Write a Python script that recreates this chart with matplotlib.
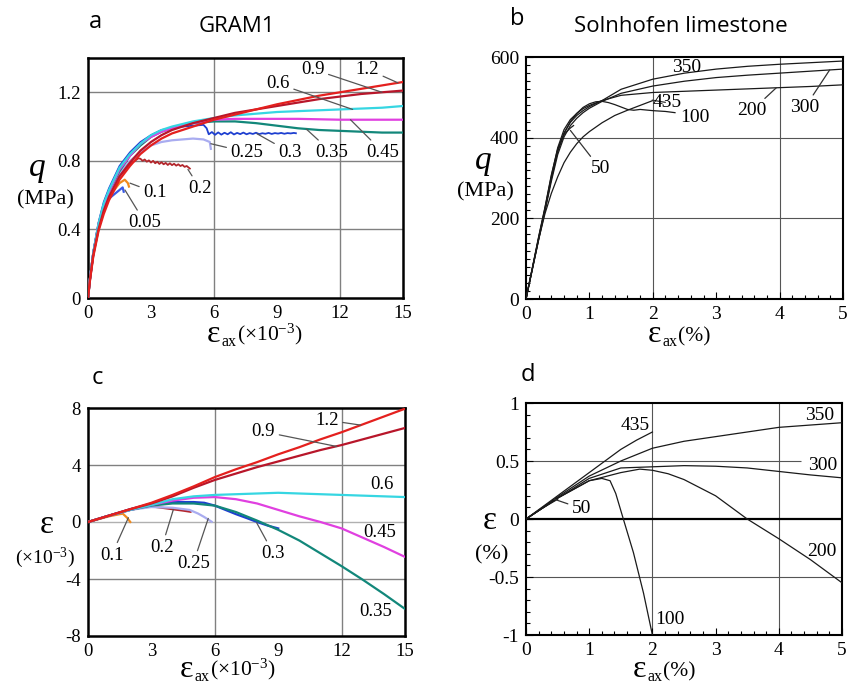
import matplotlib
matplotlib.use('Agg')
import matplotlib.pyplot as plt
from matplotlib.ticker import MultipleLocator

plt.rcParams['font.family'] = ['Liberation Serif', 'DejaVu Serif']
plt.rcParams['mathtext.fontset'] = 'custom'
plt.rcParams['mathtext.rm'] = 'Liberation Serif'
plt.rcParams['mathtext.it'] = 'Liberation Serif:italic'

W, H = 851, 687

# ---------------- panel a : GRAM1, q (MPa) vs eps_ax (x1e-3) ----------------
a_labels = ['1.2', '0.9', '0.6', '0.45', '0.35', '0.3', '0.25', '0.2', '0.1', '0.05']
a_colors = ['#e4201e', '#b8162a', '#36d6e2', '#e040e0', '#12877a',
            '#1e3fd0', '#a9acf0', '#b3262c', '#f08a1e', '#3a5ae6']
a_x = {
    '1.2': [0, 0.1, 0.25, 0.5, 0.75, 1.0, 1.5, 2.0, 2.5, 3, 3.5, 4, 5, 6, 7, 8, 9, 10, 11, 12, 13, 14, 15],
    '0.9': [0, 0.1, 0.25, 0.5, 0.75, 1.0, 1.5, 2.0, 2.5, 3, 3.5, 4, 5, 6, 7, 8, 9, 10, 11, 12, 13, 14, 15],
    '0.6': [0, 0.1, 0.25, 0.5, 0.75, 1, 1.5, 2, 2.5, 3, 3.5, 4, 5, 6, 7, 8, 9, 10, 11, 12, 13, 14, 15],
    '0.45': [0, 0.1, 0.25, 0.5, 0.75, 1, 1.5, 2, 2.5, 3, 3.5, 4, 5, 6, 7, 8, 10, 12, 15],
    '0.35': [0, 0.1, 0.25, 0.5, 0.75, 1, 1.5, 2, 2.5, 3, 3.5, 4, 5, 6, 7, 8, 9, 10, 11, 12, 13, 14, 15],
    '0.3': [0, 0.1, 0.25, 0.5, 0.75, 1, 1.5, 2, 2.5, 3, 3.5, 4, 4.5, 5, 5.5, 5.65,
            5.75, 5.9, 6.05, 6.2, 6.35, 6.5, 6.65, 6.8, 6.95, 7.1, 7.25, 7.4, 7.55, 7.7,
            7.85, 8.0, 8.15, 8.3, 8.45, 8.6, 8.75, 8.9, 9.05, 9.2, 9.35, 9.5, 9.65, 9.8, 9.9],
    '0.25': [0, 0.1, 0.25, 0.5, 0.75, 1, 1.5, 2, 2.5, 3, 3.5, 4, 4.5, 5, 5.5, 5.8, 5.85],
    '0.2': [0, 0.1, 0.25, 0.5, 0.75, 1, 1.5, 2, 2.4, 2.5, 2.6, 2.7, 2.8, 2.9, 3.0, 3.1, 3.2,
            3.3, 3.4, 3.5, 3.6, 3.7, 3.8, 3.9, 4.0, 4.1, 4.2, 4.3, 4.4, 4.5, 4.6, 4.7, 4.8, 4.85],
    '0.1': [0, 0.1, 0.25, 0.5, 0.75, 1, 1.5, 1.75, 1.9, 1.95],
    '0.05': [0, 0.1, 0.25, 0.5, 0.75, 1, 1.5, 1.65, 1.7],
}
a_q = {
    '1.2': [0, 0.11, 0.24, 0.39, 0.49, 0.57, 0.69, 0.77, 0.84, 0.89, 0.93, 0.96, 1.0, 1.04,
            1.07, 1.1, 1.13, 1.155, 1.18, 1.2, 1.22, 1.24, 1.26],
    '0.9': [0, 0.11, 0.25, 0.4, 0.51, 0.59, 0.71, 0.79, 0.86, 0.91, 0.95, 0.98, 1.02, 1.05,
            1.08, 1.1, 1.12, 1.14, 1.16, 1.175, 1.19, 1.2, 1.21],
    '0.6': [0, 0.12, 0.26, 0.43, 0.55, 0.63, 0.76, 0.84, 0.9, 0.95, 0.98, 1.0, 1.03, 1.05,
            1.065, 1.075, 1.085, 1.09, 1.095, 1.1, 1.105, 1.11, 1.12],
    '0.45': [0, 0.12, 0.26, 0.43, 0.54, 0.62, 0.75, 0.83, 0.9, 0.94, 0.97, 0.99, 1.02, 1.04,
             1.045, 1.045, 1.045, 1.04, 1.04],
    '0.35': [0, 0.12, 0.26, 0.43, 0.54, 0.62, 0.74, 0.83, 0.89, 0.94, 0.97, 0.99, 1.02, 1.03,
             1.03, 1.02, 1.005, 0.99, 0.98, 0.975, 0.97, 0.965, 0.965],
    '0.3': [0, 0.12, 0.27, 0.44, 0.56, 0.64, 0.77, 0.85, 0.91, 0.95, 0.98, 0.99, 1.0, 1.005,
            1.01, 0.99,
            0.955, 0.968, 0.952, 0.966, 0.953, 0.964, 0.955, 0.967, 0.954, 0.963, 0.956, 0.965,
            0.955, 0.962, 0.957, 0.964, 0.956, 0.961, 0.958, 0.963, 0.957, 0.962, 0.959,
            0.963, 0.958, 0.962, 0.960, 0.963, 0.961],
    '0.25': [0, 0.12, 0.25, 0.42, 0.53, 0.61, 0.73, 0.8, 0.85, 0.89, 0.91, 0.92, 0.925, 0.93,
             0.925, 0.91, 0.87],
    '0.2': [0, 0.11, 0.25, 0.4, 0.51, 0.59, 0.71, 0.78, 0.815, 0.812, 0.80, 0.808, 0.795,
            0.803, 0.79, 0.80, 0.786, 0.795, 0.782, 0.792, 0.78, 0.788, 0.776, 0.786, 0.775,
            0.783, 0.772, 0.78, 0.77, 0.776, 0.765, 0.77, 0.76, 0.755],
    '0.1': [0, 0.12, 0.26, 0.42, 0.52, 0.59, 0.67, 0.69, 0.67, 0.65],
    '0.05': [0, 0.12, 0.26, 0.42, 0.52, 0.58, 0.63, 0.645, 0.62],
}
# label text position, leader end on curve
a_notes = [('0.05', (2.71, 0.44), (1.76, 0.63)), ('0.1', (3.19, 0.615), (2.0, 0.67)),
           ('0.2', (5.33, 0.64), (4.76, 0.75)), ('0.25', (7.57, 0.85), (5.85, 0.9)),
           ('0.3', (9.62, 0.85), (8.05, 0.958)), ('0.35', (11.6, 0.85), (10.4, 0.985)),
           ('0.45', (14.05, 0.85), (12.5, 1.04)), ('0.6', (9.05, 1.25), (12.6, 1.10)),
           ('0.9', (10.7, 1.335), (14.0, 1.2)), ('1.2', (13.3, 1.335), (14.76, 1.255))]

# ---------------- panel c : GRAM1, eps_v vs eps_ax ----------------
c_labels = ['1.2', '0.9', '0.6', '0.45', '0.35', '0.3', '0.25', '0.2', '0.1']
c_x = {
    '1.2': [0, 1, 2, 3, 4, 5, 6, 7, 8, 9, 10, 11, 12, 13, 14, 15],
    '0.9': [0, 1, 2, 3, 4, 5, 6, 7, 8, 9, 10, 11, 12, 13, 14, 15],
    '0.6': [0, 1, 2, 3, 4, 5, 6, 7, 8, 9, 10, 11, 12, 13, 14, 15],
    '0.45': [0, 1, 2, 3, 4, 5, 6, 7, 8, 9, 10, 11, 12, 13, 14, 15],
    '0.35': [0, 1, 2, 3, 4, 5, 6, 7, 8, 9, 10, 11, 12, 13, 14, 15],
    '0.3': [0, 1, 2, 3, 4, 5, 5.5, 6, 6.5, 7, 7.5, 8, 8.5, 9],
    '0.25': [0, 1, 2, 3, 4, 4.8, 5.2, 5.5, 5.85],
    '0.2': [0, 1, 2, 2.5, 3, 3.5, 4, 4.5, 4.85],
    '0.1': [0, 0.5, 1, 1.5, 1.65, 1.85, 2.0],
}
c_ev = {
    '1.2': [0, 0.45, 0.9, 1.35, 1.9, 2.5, 3.15, 3.7, 4.2, 4.75, 5.25, 5.8, 6.3, 6.85, 7.4, 7.95],
    '0.9': [0, 0.45, 0.9, 1.3, 1.8, 2.4, 2.95, 3.4, 3.85, 4.25, 4.65, 5.05, 5.4, 5.8, 6.2, 6.6],
    '0.6': [0, 0.45, 0.85, 1.2, 1.6, 1.8, 1.9, 1.95, 2.0, 2.05, 2.0, 1.95, 1.9, 1.85, 1.8, 1.75],
    '0.45': [0, 0.45, 0.85, 1.2, 1.5, 1.7, 1.75, 1.6, 1.3, 0.85, 0.4, 0.0, -0.45, -1.1, -1.75, -2.45],
    '0.35': [0, 0.45, 0.85, 1.15, 1.3, 1.3, 1.15, 0.7, 0.1, -0.55, -1.3, -2.2, -3.1, -4.05, -5.05, -6.1],
    '0.3': [0, 0.45, 0.9, 1.25, 1.4, 1.4, 1.35, 1.15, 0.85, 0.55, 0.28, 0.0, -0.25, -0.45],
    '0.25': [0, 0.45, 0.85, 1.05, 1.0, 0.85, 0.6, 0.35, 0.02],
    '0.2': [0, 0.45, 0.85, 1.0, 1.1, 1.0, 0.9, 0.8, 0.72],
    '0.1': [0, 0.2, 0.4, 0.55, 0.58, 0.3, 0.0],
}
c_notes = [('1.2', (11.3, 7.15), (12.9, 6.8)), ('0.9', (8.3, 6.34), (11.77, 5.3)),
           ('0.6', (13.9, 2.6), None), ('0.45', (13.8, -0.75), None),
           ('0.35', (13.6, -6.3), None), ('0.3', (8.77, -2.2), (7.98, -0.05)),
           ('0.25', (4.98, -2.9), (5.69, 0.25)), ('0.2', (3.49, -1.78), (4.04, 0.88)),
           ('0.1', (1.12, -2.32), (1.91, 0.3))]

# ---------------- panel b : Solnhofen, q (MPa) vs eps_ax (%) ----------------
b_x = {
    '350': [0, 0.1, 0.2, 0.3, 0.4, 0.5, 0.6, 0.7, 0.8, 0.9, 1.0, 1.2, 1.5, 2, 2.5, 3, 3.5, 4, 4.5, 5],
    '300': [0, 0.1, 0.2, 0.3, 0.4, 0.5, 0.6, 0.7, 0.8, 0.9, 1.0, 1.2, 1.5, 2, 2.5, 3, 3.5, 4, 4.5, 5],
    '200': [0, 0.1, 0.2, 0.3, 0.4, 0.5, 0.6, 0.7, 0.8, 0.9, 1.0, 1.2, 1.5, 2, 2.5, 3, 3.5, 4, 4.5, 5],
    '100': [0, 0.1, 0.2, 0.3, 0.4, 0.5, 0.6, 0.7, 0.8, 0.9, 1.0, 1.1, 1.2, 1.3, 1.4, 1.5, 1.6,
            1.7, 1.8, 2.0, 2.2, 2.35],
    '50': [0, 0.1, 0.2, 0.3, 0.4, 0.5, 0.6, 0.7, 0.75],
    '435': [0, 0.1, 0.2, 0.3, 0.4, 0.5, 0.6, 0.7, 0.8, 0.9, 1.0, 1.2, 1.4, 1.6, 1.8, 2.0],
}
b_q = {
    '350': [0, 75, 150, 222, 300, 368, 412, 438, 455, 467, 477, 492, 520, 545, 560, 570, 577, 582, 586, 590],
    '300': [0, 73, 147, 218, 292, 358, 402, 430, 448, 462, 473, 490, 510, 528, 540, 549, 555, 560, 565, 570],
    '200': [0, 77, 153, 226, 305, 375, 420, 445, 460, 472, 480, 492, 505, 512, 515, 518, 521, 524, 527, 531],
    '100': [0, 75, 150, 222, 298, 365, 410, 440, 460, 475, 484, 489, 490, 487, 482, 476, 470,
            468, 470, 467, 465, 462],
    '50': [0, 77, 155, 228, 308, 372, 408, 424, 430],
    '435': [0, 75, 148, 212, 262, 303, 338, 364, 385, 402, 415, 437, 455, 468, 480, 492],
}
b_notes = [('350', (2.53, 573), None), ('435', (2.22, 487), (1.99, 493)),
           ('100', (2.67, 450), None), ('200', (3.56, 467), (3.95, 524)),
           ('300', (4.4, 475), (4.79, 568)), ('50', (1.17, 323), (0.7, 418))]

# ---------------- panel d : Solnhofen, eps_v (%) vs eps_ax (%) ----------------
d_x = {
    '435': [0, 0.25, 0.5, 0.75, 1.0, 1.25, 1.5, 1.75, 2.0],
    '350': [0, 0.5, 1.0, 1.5, 2, 2.5, 3, 3.5, 4, 4.5, 5],
    '300': [0, 0.5, 1, 1.5, 2, 2.5, 3, 3.5, 4, 4.5, 5],
    '200': [0, 0.5, 1, 1.5, 1.8, 2, 2.25, 2.5, 2.75, 3, 3.5, 4, 4.5, 5],
    '100': [0, 0.5, 1, 1.2, 1.33, 1.42, 1.54, 1.7, 1.86, 2.0],
    '50': [0, 0.25, 0.5],
}
d_ev = {
    '435': [0, 0.1, 0.2, 0.3, 0.4, 0.5, 0.6, 0.68, 0.75],
    '350': [0, 0.19, 0.37, 0.5, 0.61, 0.67, 0.71, 0.75, 0.79, 0.81, 0.83],
    '300': [0, 0.18, 0.35, 0.44, 0.45, 0.46, 0.455, 0.44, 0.41, 0.38, 0.355],
    '200': [0, 0.18, 0.33, 0.4, 0.43, 0.42, 0.39, 0.34, 0.27, 0.2, 0.0, -0.17, -0.35, -0.55],
    '100': [0, 0.18, 0.33, 0.35, 0.33, 0.22, 0.0, -0.29, -0.64, -1.0],
    '50': [0, 0.09, 0.17],
}
d_notes = [('435', (1.72, 0.81), None), ('350', (4.65, 0.89), None),
           ('300', (4.7, 0.46), None), ('200', (4.68, -0.28), None),
           ('100', (2.27, -0.87), None), ('50', (0.88, 0.09), (0.45, 0.17))]

fig = plt.figure(figsize=(W / 100, H / 100), dpi=100)


def box(l, t, r, b):
    return [l / W, 1 - b / H, (r - l) / W, (b - t) / H]


ax_a = fig.add_axes(box(88, 58, 403, 298))
ax_b = fig.add_axes(box(526, 57, 843, 299))
ax_c = fig.add_axes(box(88, 408, 405, 636))
ax_d = fig.add_axes(box(526, 403, 842, 635))


def ftext(x, y, s, **kw):
    return fig.text(x / W, 1 - y / H, s, **kw)


def notes(ax, items, size, lcol):
    for lab, txt, pt in items:
        if pt is None:
            ax.text(txt[0], txt[1], lab, fontsize=size, ha='center', va='center')
        else:
            ax.annotate(lab, xy=pt, xytext=txt, fontsize=size, ha='center', va='center',
                        arrowprops=dict(arrowstyle='-', color=lcol, lw=0.9,
                                        shrinkA=1, shrinkB=0))


def eps_label(ax, x0, base, suffix):
    t1 = ax.text(x0 / W, 1 - base / H, 'ε', transform=fig.transFigure, fontsize=23,
                 ha='left', va='baseline')
    t2 = ax.annotate('ax', xy=(1, 0), xycoords=t1, xytext=(0.5, -0.8),
                     textcoords='offset points', fontsize=11.5, ha='left', va='bottom')
    ax.annotate(suffix, xy=(1, 0), xycoords=(t2, t1), xytext=(0.5, 1.7),
                textcoords='offset points', fontsize=15.5, ha='left', va='bottom')


# ---- panel a
for lab, col in zip(a_labels[::-1], a_colors[::-1]):
    lw = 1.3 if lab in ('0.2', '0.3') else 1.6
    ax_a.plot(a_x[lab], a_q[lab], color=col, lw=lw, zorder=3)
ax_a.set_xlim(0, 15)
ax_a.set_ylim(0, 1.4)
ax_a.set_xticks([0, 3, 6, 9, 12, 15])
ax_a.set_yticks([0, 0.4, 0.8, 1.2])
ax_a.set_yticklabels(['0', '0.4', '0.8', '1.2'])
for v in (0.4, 0.8, 1.2):
    ax_a.axhline(v, color='#808080', lw=1.0, zorder=1)
for v in (6, 12):
    ax_a.axvline(v, color='#808080', lw=1.0, zorder=1)
notes(ax_a, a_notes, 13.5, '#555555')

# ---- panel c
for lab in c_labels[::-1]:
    col = a_colors[a_labels.index(lab)]
    ax_c.plot(c_x[lab], c_ev[lab], color=col, lw=1.6, zorder=3)
ax_c.set_xlim(0, 15)
ax_c.set_ylim(-8, 8)
ax_c.set_xticks([0, 3, 6, 9, 12, 15])
ax_c.set_yticks([-8, -4, 0, 4, 8])
ax_c.set_yticklabels(['-8', '-4', '0', '4', '8'])
for v in (-4, 4):
    ax_c.axhline(v, color='#808080', lw=1.0, zorder=1)
ax_c.axhline(0, color='#b0b0b0', lw=1.0, zorder=1)
for v in (6, 12):
    ax_c.axvline(v, color='#808080', lw=1.0, zorder=1)
notes(ax_c, c_notes, 13.5, '#555555')

for ax in (ax_a, ax_c):
    for s in ax.spines.values():
        s.set_linewidth(1.8)
    ax.tick_params(length=0, labelsize=13.5, pad=5)

# ---- panel b
for lab in ['435', '50', '100', '200', '300', '350']:
    ax_b.plot(b_x[lab], b_q[lab], color='#1a1a1a', lw=0.9, zorder=3)
ax_b.set_xlim(0, 5)
ax_b.set_ylim(0, 600)
ax_b.set_xticks([0, 1, 2, 3, 4, 5])
ax_b.set_yticks([0, 200, 400, 600])
ax_b.xaxis.set_minor_locator(MultipleLocator(0.2))
ax_b.yaxis.set_minor_locator(MultipleLocator(20))
for v in (200, 400):
    ax_b.axhline(v, color='#555555', lw=0.8, zorder=1)
for v in (2, 4):
    ax_b.axvline(v, color='#555555', lw=0.8, zorder=1)
notes(ax_b, b_notes, 14, '#333333')

# ---- panel d
for lab in ['50', '100', '200', '300', '435', '350']:
    ax_d.plot(d_x[lab], d_ev[lab], color='#1a1a1a', lw=0.9, zorder=3)
ax_d.set_xlim(0, 5)
ax_d.set_ylim(-1, 1)
ax_d.set_xticks([0, 1, 2, 3, 4, 5])
ax_d.set_yticks([-1, -0.5, 0, 0.5, 1])
ax_d.set_yticklabels(['-1', '-0.5', '0', '0.5', '1'])
ax_d.xaxis.set_minor_locator(MultipleLocator(0.2))
ax_d.yaxis.set_minor_locator(MultipleLocator(0.1))
ax_d.hlines(0.5, 0, 4.35, color='#555555', lw=0.8, zorder=1)
ax_d.axhline(-0.5, color='#555555', lw=0.8, zorder=1)
ax_d.axhline(0, color='black', lw=1.6, zorder=2)
for v in (2, 4):
    ax_d.axvline(v, color='#555555', lw=0.8, zorder=1)
notes(ax_d, d_notes, 14, '#333333')

for ax in (ax_b, ax_d):
    for s in ax.spines.values():
        s.set_linewidth(1.5)
    ax.tick_params(which='both', direction='in', labelsize=14, pad=5,
                   top=False, right=False, width=0.8)
    ax.tick_params(which='major', length=5)
    ax.tick_params(which='minor', length=3)

# ---- panel letters, titles and axis labels
sans = ['Open Sans', 'DejaVu Sans']
ftext(95, 22, 'a', family=sans, fontsize=17, ha='center', va='center')
ftext(237, 27, 'GRAM1', family=sans, fontsize=16, ha='center', va='center')
ftext(517, 19, 'b', family=sans, fontsize=17, ha='center', va='center')
ftext(681, 27, 'Solnhofen limestone', family=sans, fontsize=16, ha='center', va='center')
ftext(97, 378, 'c', family=sans, fontsize=17, ha='center', va='center')
ftext(528, 375, 'd', family=sans, fontsize=17, ha='center', va='center')

ftext(37, 168, 'q', fontsize=24, style='italic', ha='center', va='center')
ftext(45, 200, '(MPa)', fontsize=16, ha='center', va='center')
ftext(483, 161, 'q', fontsize=24, style='italic', ha='center', va='center')
ftext(485, 192, '(MPa)', fontsize=16, ha='center', va='center')
ftext(47, 525, 'ε', fontsize=24, ha='center', va='center')
ftext(45, 558, '(×10$^{-3}$)', fontsize=14, ha='center', va='center')
ftext(490, 521, 'ε', fontsize=24, ha='center', va='center')
ftext(492, 555, '(%)', fontsize=16, ha='center', va='center')

eps_label(ax_a, 207, 342, '(×10$^{-3}$)')
eps_label(ax_c, 180, 677, '(×10$^{-3}$)')
eps_label(ax_b, 648, 342, '(%)')
eps_label(ax_d, 633, 677, '(%)')

fig.savefig('out.png', dpi=100)
